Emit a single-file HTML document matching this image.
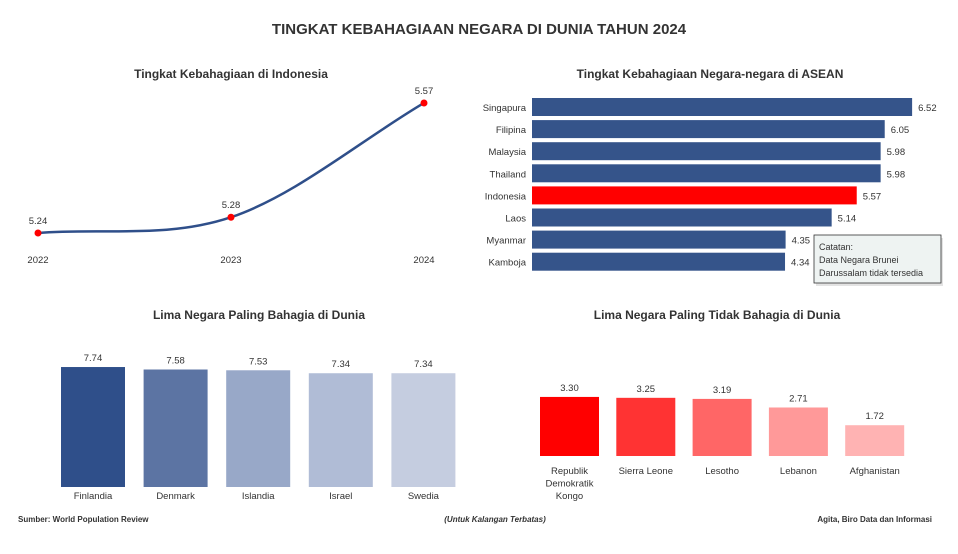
<!DOCTYPE html>
<html><head><meta charset="utf-8"><style>
body{margin:0;background:#fff;font-family:"Liberation Sans",sans-serif;}
svg text{font-family:"Liberation Sans",sans-serif;fill:#333;}
</style></head><body>
<svg width="958" height="549" viewBox="0 0 958 549" xmlns="http://www.w3.org/2000/svg">
<text x="479" y="34" text-anchor="middle" font-size="15" font-weight="bold" fill="#111">TINGKAT KEBAHAGIAAN NEGARA DI DUNIA TAHUN 2024</text>
<text x="231" y="78" text-anchor="middle" font-size="12" font-weight="bold">Tingkat Kebahagiaan di Indonesia</text>
<text x="710" y="78" text-anchor="middle" font-size="12" font-weight="bold">Tingkat Kebahagiaan Negara-negara di ASEAN</text>
<text x="259" y="319" text-anchor="middle" font-size="12" font-weight="bold">Lima Negara Paling Bahagia di Dunia</text>
<text x="717" y="319" text-anchor="middle" font-size="12" font-weight="bold">Lima Negara Paling Tidak Bahagia di Dunia</text>
<g id="line"></g>
<g id="asean"></g>
<g id="top5"></g>
<g id="bot5"></g>
<g>
<rect x="816" y="238" width="127" height="48" fill="#c8c8c8" opacity="0.5"/>
<rect x="814" y="235" width="127" height="48" fill="#eef3f2" stroke="#333" stroke-width="0.8"/>
<text x="819" y="250" font-size="9">Catatan:</text>
<text x="819" y="263" font-size="9">Data Negara Brunei</text>
<text x="819" y="276" font-size="9">Darussalam tidak tersedia</text>
</g>
<text x="18" y="522" font-size="8" font-weight="bold" fill="#111">Sumber: World Population Review</text>
<text x="495" y="522" text-anchor="middle" font-size="8" font-weight="bold" font-style="italic" fill="#111">(Untuk Kalangan Terbatas)</text>
<text x="932" y="522" text-anchor="end" font-size="8" font-weight="bold" fill="#111">Agita, Biro Data dan Informasi</text>
</svg>
<script>
const lineYears=["2022","2023","2024"];
const lineValues=[5.24,5.28,5.57];
const aseanCountries=["Singapura","Filipina","Malaysia","Thailand","Indonesia","Laos","Myanmar","Kamboja"];
const aseanValues=[6.52,6.05,5.98,5.98,5.57,5.14,4.35,4.34];
const topCountries=["Finlandia","Denmark","Islandia","Israel","Swedia"];
const topValues=[7.74,7.58,7.53,7.34,7.34];
const botCountries=[["Republik","Demokratik","Kongo"],["Sierra Leone"],["Lesotho"],["Lebanon"],["Afghanistan"]];
const botValues=[3.30,3.25,3.19,2.71,1.72];
const NS="http://www.w3.org/2000/svg";
function mk(p,t,a){const e=document.createElementNS(NS,t);for(const k in a)e.setAttribute(k,a[k]);p.appendChild(e);return e;}
// line chart
const lg=document.getElementById('line');
const lx=i=>38+i*193, ly=v=>233-(v-5.24)*394;
const pts=lineValues.map((v,i)=>[lx(i),ly(v)]);
let d=`M${pts[0][0]},${pts[0][1]}`;
for(let i=0;i<pts.length-1;i++){
const p1=pts[i],p2=pts[i+1];
const p0=pts[i-1]||[2*p1[0]-p2[0],2*p1[1]-p2[1]];
const p3=pts[i+2]||[2*p2[0]-p1[0],2*p2[1]-p1[1]];
const c1=[p1[0]+(p2[0]-p0[0])/6,p1[1]+(p2[1]-p0[1])/6],c2=[p2[0]-(p3[0]-p1[0])/6,p2[1]-(p3[1]-p1[1])/6];
d+=` C${c1[0]},${c1[1]} ${c2[0]},${c2[1]} ${p2[0]},${p2[1]}`;}
const path=mk(lg,'path',{d:d,fill:'none',stroke:'#2f4f8a','stroke-width':2.5});


lineValues.forEach((v,i)=>{
const c=mk(lg,'circle',{cx:lx(i),cy:ly(v),r:3.5,fill:'#ff0000'});


const t=mk(lg,'text',{x:lx(i),y:ly(v)-9,'text-anchor':'middle','font-size':9.5});t.textContent=v.toFixed(2);


const y=mk(lg,'text',{x:lx(i),y:263,'text-anchor':'middle','font-size':9.5});y.textContent=lineYears[i];


});
// asean
const ag=document.getElementById('asean');
const ax=v=>v*58.3;
aseanCountries.forEach((c,i)=>{const y=98+i*22.1,w=ax(aseanValues[i]);
const r=mk(ag,'rect',{x:532,y:y,width:w,height:18,fill:c==="Indonesia"?'#ff0000':'#35548a'});


const l=mk(ag,'text',{x:526,y:y+13,'text-anchor':'end','font-size':9.5});l.textContent=c;


const v=mk(ag,'text',{x:532+w+6,y:y+13,'font-size':9.5});v.textContent=aseanValues[i].toFixed(2);

});
// top5
const tg=document.getElementById('top5');const tcol=['#2f4f8a','#5c74a3','#98a8c8','#b0bcd6','#c5cde0'];
topCountries.forEach((c,i)=>{const x=61+i*82.6,h=topValues[i]*15.5;
const r=mk(tg,'rect',{x:x,y:487-h,width:64,height:h,fill:tcol[i]});


const v=mk(tg,'text',{x:x+32,y:487-h-6,'text-anchor':'middle','font-size':9.5});v.textContent=topValues[i].toFixed(2);


const l=mk(tg,'text',{x:x+32,y:499,'text-anchor':'middle','font-size':9.5});l.textContent=c;

});
// bottom5
const bg=document.getElementById('bot5');const bcol=['#ff0000','#ff3333','#ff6666','#ff9999','#ffb3b3'];
botCountries.forEach((c,i)=>{const x=540+i*76.3,h=botValues[i]*17.9;const nm=c.join('-').toLowerCase().replace(/ /g,'-');
const r=mk(bg,'rect',{x:x,y:456-h,width:59,height:h,fill:bcol[i]});


const v=mk(bg,'text',{x:x+29.5,y:456-h-6,'text-anchor':'middle','font-size':9.5});v.textContent=botValues[i].toFixed(2);


c.forEach((s,j)=>{const l=mk(bg,'text',{x:x+29.5,y:474+j*12.5,'text-anchor':'middle','font-size':9.5});l.textContent=s;

});});
</script>
</body></html>
